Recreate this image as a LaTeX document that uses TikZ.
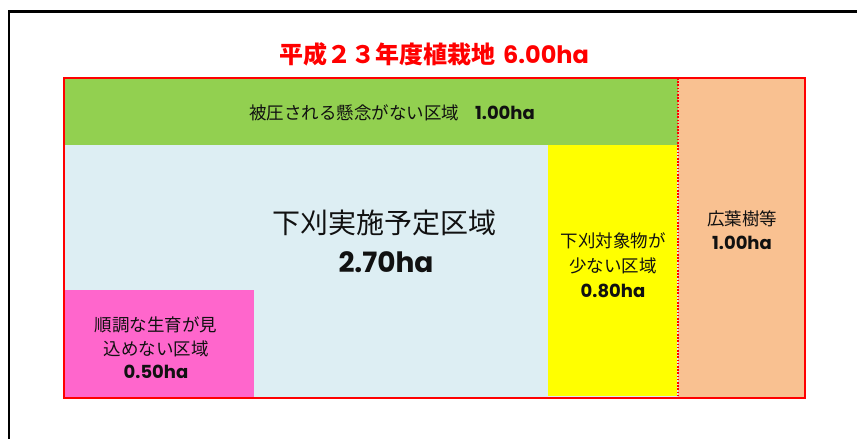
\documentclass[tikz,border=0pt]{standalone}
\usepackage{fontspec}
\setmainfont{Poppins}
\newfontfamily\jp{Noto Sans CJK JP}
\newfontfamily\lat{Poppins}
\definecolor{grn}{HTML}{92D050}
\definecolor{org}{HTML}{F9C191}
\definecolor{lblue}{HTML}{DDEEF3}
\definecolor{yel}{HTML}{FFFF00}
\definecolor{pnk}{HTML}{FF66CC}
\definecolor{txt}{HTML}{111111}
\tikzset{
  lbl/.style={inner sep=0pt, align=center, text=txt},
}
\begin{document}
\begin{tikzpicture}[x=1pt,y=-1pt]
\useasboundingbox (0,0) rectangle (857,439);
\fill[white] (0,0) rectangle (857,439);
\draw[line width=2.2pt] (9,439) -- (9,11.5) -- (857,11.5);
% regions
\fill[lblue] (64,145) rectangle (678,398);
\fill[grn] (64,78) rectangle (678,145);
\fill[org] (678,78) rectangle (805,398);
\fill[yel] (548,145) rectangle (677,396);
\fill[pnk] (64,290) rectangle (254,398);
\draw[red, line width=1.8pt, dash pattern=on 1.6pt off 1.6pt] (678,78) -- (678,398);
\draw[red, line width=2.2pt] (64,78) rectangle (805,398);
% texts
\node[inner sep=0pt, text=red, font=\fontsize{24}{28}\selectfont\bfseries] (title) at (434,54)
  {{\jp 平成２３年度植栽地}\hspace{8pt}{\lat 6.00ha}};
\node[lbl, font=\fontsize{17.5}{20}\selectfont] (green) at (392,113)
  {{\jp 被圧される懸念がない区域}\hspace{16pt}{\lat\bfseries\fontsize{18}{20}\selectfont 1.00ha}};
\node[lbl, font=\fontsize{28}{30}\selectfont] (main1) at (384,223) {\jp 下刈実施予定区域};
\node[lbl, font=\fontsize{28}{30}\selectfont\bfseries] (main2) at (386,262) {\lat 2.70ha};
\node[lbl, font=\fontsize{17.5}{25}\selectfont] (yellow) at (613,265)
  {\jp 下刈対象物が\\\jp 少ない区域\\\lat\bfseries\fontsize{18}{25}\selectfont 0.80ha};
\node[lbl, font=\fontsize{17.5}{24}\selectfont] (orange) at (742,230)
  {\jp 広葉樹等\\\lat\bfseries\fontsize{18}{24}\selectfont 1.00ha};
\node[lbl, font=\fontsize{17.5}{23.5}\selectfont] (pink) at (156,348)
  {\jp 順調な生育が見\\\jp 込めない区域\\\lat\bfseries\fontsize{18}{23.5}\selectfont 0.50ha};
\end{tikzpicture}
\end{document}
